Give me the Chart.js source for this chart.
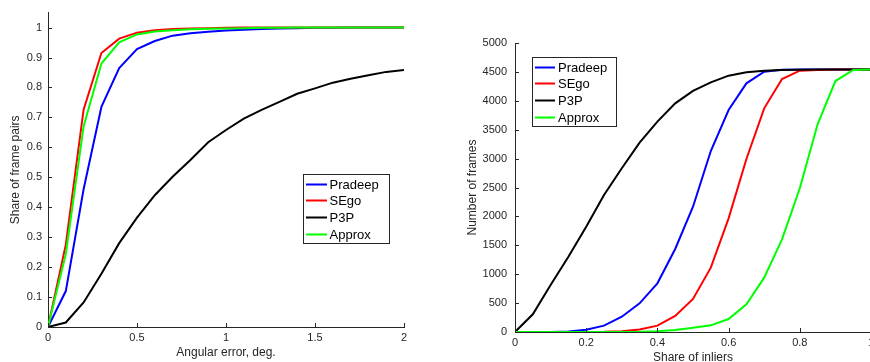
<!DOCTYPE html>
<html><head><meta charset="utf-8">
<script src="https://cdn.jsdelivr.net/npm/chart.js@4"></script>
<style>
html,body{margin:0;padding:0;background:#fff;overflow:hidden;width:870px;height:362px;position:relative;}
#c1{position:absolute;left:0;top:0;}
#c2{position:absolute;left:440px;top:0;}
</style></head><body>
<canvas id="c1" width="420" height="362"></canvas>
<canvas id="c2" width="440" height="366"></canvas>
<script>
// ---------- data ----------
const seriesNames  = ['Pradeep', 'SEgo', 'P3P', 'Approx'];
const seriesColors = ['#0000ff', '#ff0000', '#000000', '#00ff00'];

// Left chart: share of frame pairs vs angular error
const angleX = [0,0.1,0.2,0.3,0.4,0.5,0.6,0.7,0.8,0.9,1.0,1.1,1.2,1.3,1.4,1.5,1.6,1.7,1.8,1.9,2.0];
const angPradeep = [0,0.12,0.46,0.735,0.865,0.928,0.955,0.973,0.981,0.986,0.99,0.993,0.995,0.997,0.998,0.999,0.999,1,1,1,1];
const angSEgo    = [0,0.275,0.726,0.915,0.963,0.983,0.991,0.995,0.997,0.998,0.999,1,1,1,1,1,1,1,1,1,1];
const angP3P     = [0,0.015,0.082,0.178,0.28,0.365,0.44,0.502,0.558,0.617,0.658,0.696,0.725,0.752,0.779,0.797,0.816,0.829,0.841,0.852,0.858];
const angApprox  = [0,0.244,0.67,0.88,0.951,0.977,0.987,0.991,0.994,0.996,0.997,0.998,0.999,0.999,1,1,1,1,1,1,1];
const angXTicks  = [0,0.5,1,1.5,2];
const angYTicks  = [0,0.1,0.2,0.3,0.4,0.5,0.6,0.7,0.8,0.9,1];

// Right chart: number of frames vs share of inliers
const inlX = [0,0.05,0.1,0.15,0.2,0.25,0.3,0.35,0.4,0.45,0.5,0.55,0.6,0.65,0.7,0.75,0.8,0.85,0.9,0.95,1.0];
const inlPradeep = [0,0,2,10,40,110,265,496,842,1436,2168,3131,3841,4302,4504,4538,4540,4540,4540,4540,4540];
const inlSEgo    = [0,0,0,0,1,3,12,45,110,277,571,1113,1966,2993,3870,4377,4521,4535,4540,4540,4540];
const inlP3P     = [0,306,813,1303,1822,2370,2832,3276,3639,3956,4170,4320,4435,4493,4521,4533,4538,4540,4540,4540,4540];
const inlApprox  = [0,0,0,0,0,0,1,3,12,35,75,115,225,479,940,1603,2486,3593,4342,4533,4540];
const inlXTicks  = [0,0.2,0.4,0.6,0.8,1];
const inlYTicks  = [0,500,1000,1500,2000,2500,3000,3500,4000,4500,5000];

// ---------- helpers ----------
const FONT = '"Liberation Sans", Arial, Helvetica, sans-serif';
const AXC = '#262626';
Chart.defaults.font.family = FONT;

function makeDatasets(xs, ys) {
  return ys.map((arr, i) => ({
    label: seriesNames[i],
    data: arr.map((v, k) => ({x: xs[k], y: v})),
    borderColor: seriesColors[i],
    backgroundColor: seriesColors[i],
    borderWidth: 2,
    pointRadius: 0,
    fill: false,
    tension: 0,
    order: ys.length - 1 - i
  }));
}

const inwardTicks = {
  id: 'inwardTicks',
  afterDraw(chart, args, o) {
    const ctx = chart.ctx, xs = chart.scales.x, ys = chart.scales.y;
    ctx.save();
    ctx.strokeStyle = AXC; ctx.lineWidth = 1;
    ctx.beginPath();
    xs.ticks.forEach(t => {
      const px = Math.round(xs.getPixelForValue(t.value)) + 0.5;
      ctx.moveTo(px, ys.bottom); ctx.lineTo(px, ys.bottom - o.length);
    });
    ys.ticks.forEach(t => {
      const py = Math.round(ys.getPixelForValue(t.value)) + 0.5;
      ctx.moveTo(xs.left, py); ctx.lineTo(xs.left + o.length, py);
    });
    ctx.stroke();
    ctx.restore();
  }
};

const boxLegend = {
  id: 'boxLegend',
  afterDraw(chart, args, o) {
    const ctx = chart.ctx;
    ctx.save();
    ctx.fillStyle = '#fff';
    ctx.fillRect(o.left, o.top, o.width, o.height);
    ctx.strokeStyle = AXC; ctx.lineWidth = 1;
    ctx.strokeRect(o.left + 0.5, o.top + 0.5, o.width, o.height);
    ctx.font = '13px ' + FONT;
    ctx.textBaseline = 'middle';
    ctx.textAlign = 'left';
    chart.data.datasets.forEach((ds, i) => {
      const y = Math.round(o.top + o.firstRow + i * o.rowGap) + 0.5;
      ctx.strokeStyle = ds.borderColor; ctx.lineWidth = 2;
      ctx.beginPath();
      ctx.moveTo(o.left + o.lineStart, y); ctx.lineTo(o.left + o.lineEnd, y);
      ctx.stroke();
      ctx.fillStyle = '#000';
      ctx.fillText(ds.label, o.left + o.textX, y + 0.5);
    });
    ctx.restore();
  }
};

function axis(opts) {
  return Object.assign({
    type: 'linear',
    grid: {display: true, drawOnChartArea: false, drawTicks: false},
    border: {display: true, color: AXC, width: 1},
  }, opts);
}

function makeChart(id, xs, ys, cfg) {
  return new Chart(document.getElementById(id), {
    type: 'line',
    data: {datasets: makeDatasets(xs, ys)},
    plugins: [inwardTicks, boxLegend],
    options: {
      responsive: false,
      animation: false,
      devicePixelRatio: 1,
      layout: {padding: cfg.padding},
      plugins: {
        legend: {display: false},
        tooltip: {enabled: false},
        inwardTicks: {length: 4},
        boxLegend: cfg.legend
      },
      scales: {
        x: axis({
          min: cfg.xMin, max: cfg.xMax,
          afterBuildTicks: s => { s.ticks = cfg.xTicks.map(v => ({value: v})); },
          afterFit: s => { s.height = cfg.xAxisHeight; },
          ticks: {padding: 4, color: AXC, font: {size: 11}, maxRotation: 0, autoSkip: false,
                  callback: v => String(v)},
          title: {display: true, text: cfg.xTitle, color: AXC, font: {size: 12},
                  padding: {top: 0, bottom: cfg.xTitlePad}}
        }),
        y: axis({
          min: cfg.yMin, max: cfg.yMax,
          afterBuildTicks: s => { s.ticks = cfg.yTicks.map(v => ({value: v})); },
          afterFit: s => { s.width = cfg.yAxisWidth; },
          ticks: {padding: cfg.yTickPad, color: AXC, font: {size: 11}, autoSkip: false,
                  callback: v => String(v)},
          title: {display: true, text: cfg.yTitle, color: AXC, font: {size: 12},
                  padding: {top: cfg.yTitlePad, bottom: 0}}
        })
      }
    }
  });
}

makeChart('c1', angleX, [angPradeep, angSEgo, angP3P, angApprox], {
  padding: {left: 0, right: 16, top: 10, bottom: 0},
  xMin: 0, xMax: 2, yMin: 0, yMax: 1.05,
  xTicks: angXTicks, yTicks: angYTicks,
  xAxisHeight: 35, yAxisWidth: 48, yTickPad: 6,
  xTitle: 'Angular error, deg.', yTitle: 'Share of frame pairs',
  xTitlePad: 2, yTitlePad: 8,
  legend: {left: 303, top: 174, width: 86, height: 69, firstRow: 9.5, rowGap: 16.75,
           lineStart: 3, lineEnd: 24, textX: 26.5}
});

makeChart('c2', inlX, [inlPradeep, inlSEgo, inlP3P, inlApprox], {
  padding: {left: 0, right: 9, top: 43, bottom: 0},
  xMin: 0, xMax: 1, yMin: 0, yMax: 5000,
  xTicks: inlXTicks, yTicks: inlYTicks,
  xAxisHeight: 34, yAxisWidth: 75, yTickPad: 8,
  xTitle: 'Share of inliers', yTitle: 'Number of frames',
  xTitlePad: 1, yTitlePad: 25,
  legend: {left: 92, top: 57, width: 84, height: 69, firstRow: 9.5, rowGap: 16.75,
           lineStart: 3, lineEnd: 23, textX: 26}
});
</script>
</body></html>
